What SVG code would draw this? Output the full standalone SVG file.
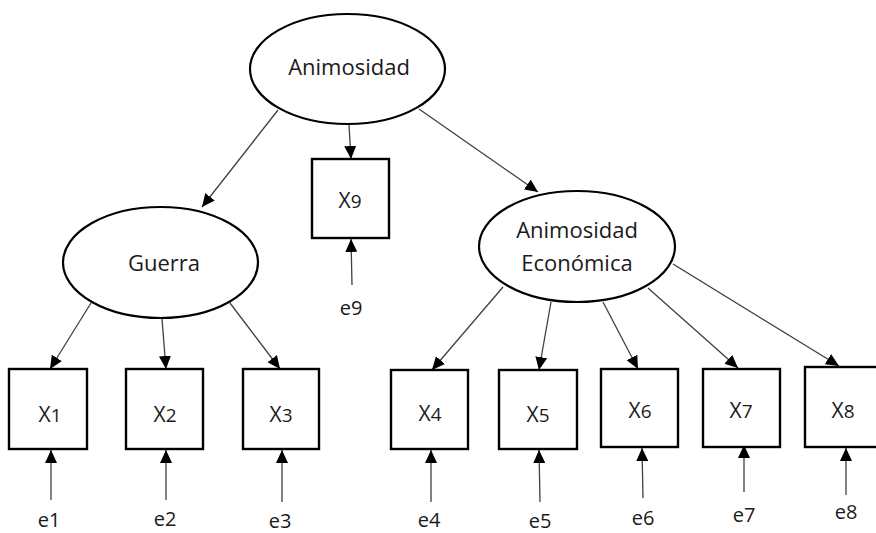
<svg xmlns="http://www.w3.org/2000/svg" width="876" height="533" viewBox="0 0 876 533">
<style>
.lat{fill:#fff;stroke:#000;stroke-width:2.2}
.obs{fill:#fff;stroke:#000;stroke-width:2.4}
.t{font-family:"Open Sans","Liberation Sans",sans-serif;font-size:22px;fill:#1a1a1a;text-anchor:middle}
.x{font-family:"Open Sans","Liberation Sans",sans-serif;font-size:21px;fill:#1a1a1a;text-anchor:middle}
.d{font-size:19px}
.e{font-family:"Open Sans","Liberation Sans",sans-serif;font-size:20px;fill:#1a1a1a;text-anchor:middle}
.c line{stroke:#404040;stroke-width:1.3;marker-end:url(#ah)}
</style>
<defs>
<marker id="ah" markerUnits="userSpaceOnUse" markerWidth="13" markerHeight="12" refX="13" refY="6" orient="auto" viewBox="0 0 13 12">
<path d="M0,0 L13,6 L0,12 z" fill="#000"/>
</marker>
</defs>
<rect width="876" height="533" fill="#fff"/>
<g id="connectors" class="c">
<line x1="278" y1="110" x2="202" y2="207"/>
<line x1="349" y1="125" x2="351" y2="159"/>
<line x1="419" y1="109" x2="538" y2="192"/>
<line x1="91" y1="303" x2="50" y2="369"/>
<line x1="162" y1="319" x2="166" y2="369"/>
<line x1="230" y1="303" x2="280" y2="369"/>
<line x1="503" y1="287" x2="432" y2="370"/>
<line x1="551" y1="302" x2="539" y2="370"/>
<line x1="603" y1="302" x2="638" y2="369"/>
<line x1="648" y1="288" x2="738" y2="368"/>
<line x1="673" y1="264" x2="839" y2="366"/>
<line x1="51" y1="500" x2="51" y2="450"/>
<line x1="166" y1="500" x2="166" y2="450"/>
<line x1="282" y1="502" x2="282" y2="450"/>
<line x1="431" y1="502" x2="431" y2="450"/>
<line x1="540" y1="502" x2="539" y2="450"/>
<line x1="643" y1="498" x2="642" y2="448"/>
<line x1="744" y1="492" x2="744" y2="445"/>
<line x1="846" y1="495" x2="846" y2="448"/>
<line x1="352" y1="285" x2="351" y2="239"/>
</g>
<g id="animosidad"><ellipse class="lat" cx="347.5" cy="69" rx="97.5" ry="55"/><text class="t" x="349" y="75">Animosidad</text></g>
<g id="guerra"><ellipse class="lat" cx="160.5" cy="262.5" rx="97.5" ry="55.5"/><text class="t" x="164" y="271">Guerra</text></g>
<g id="animosidad-economica"><ellipse class="lat" cx="577" cy="246.5" rx="98" ry="55.5"/><text class="t" x="577" y="238">Animosidad</text><text class="t" x="577" y="271">Económica</text></g>
<g id="x9"><rect class="obs" x="312" y="159" width="77" height="79"/><text class="x" x="350" y="208">X<tspan class="d">9</tspan></text></g>
<g id="x1"><rect class="obs" x="9" y="369" width="78" height="80"/><text class="x" x="50" y="422">X<tspan class="d">1</tspan></text></g>
<g id="x2"><rect class="obs" x="126" y="369" width="77" height="80"/><text class="x" x="165" y="422">X<tspan class="d">2</tspan></text></g>
<g id="x3"><rect class="obs" x="243" y="369" width="76" height="80"/><text class="x" x="281" y="422">X<tspan class="d">3</tspan></text></g>
<g id="x4"><rect class="obs" x="391" y="370" width="77" height="79"/><text class="x" x="430" y="421">X<tspan class="d">4</tspan></text></g>
<g id="x5"><rect class="obs" x="499" y="370" width="78" height="79"/><text class="x" x="538" y="422">X<tspan class="d">5</tspan></text></g>
<g id="x6"><rect class="obs" x="601" y="369" width="77" height="78"/><text class="x" x="640" y="418">X<tspan class="d">6</tspan></text></g>
<g id="x7"><rect class="obs" x="703" y="369" width="77" height="78"/><text class="x" x="741" y="418">X<tspan class="d">7</tspan></text></g>
<g id="x8"><rect class="obs" x="805" y="367" width="77" height="80"/><text class="x" x="843" y="418">X<tspan class="d">8</tspan></text></g>
<g id="e1"><text class="e" x="49" y="527">e1</text></g>
<g id="e2"><text class="e" x="165" y="526">e2</text></g>
<g id="e3"><text class="e" x="280" y="528">e3</text></g>
<g id="e4"><text class="e" x="429" y="527">e4</text></g>
<g id="e5"><text class="e" x="540" y="528">e5</text></g>
<g id="e6"><text class="e" x="643" y="525">e6</text></g>
<g id="e7"><text class="e" x="744" y="522">e7</text></g>
<g id="e8"><text class="e" x="846" y="519">e8</text></g>
<g id="e9"><text class="e" x="351" y="315">e9</text></g>
</svg>
